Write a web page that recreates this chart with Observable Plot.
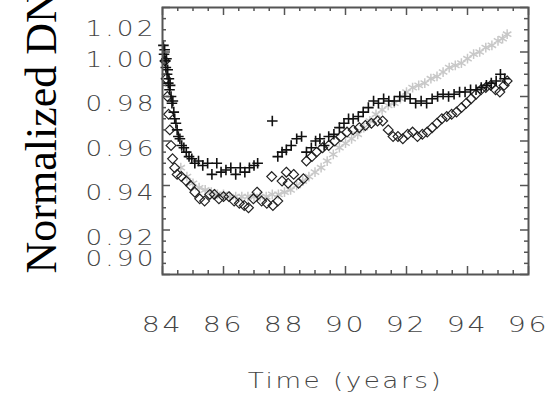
<!DOCTYPE html>
<html>
<head>
<meta charset="utf-8">
<script src="https://cdn.jsdelivr.net/npm/d3@7"></script>
<script src="https://cdn.jsdelivr.net/npm/@observablehq/plot@0.6"></script>
<style>
  html, body { margin: 0; padding: 0; background: #fff; }
  svg { display: block; }
  g[aria-label="dot"] { filter: blur(0.45px); }
</style>
</head>
<body>
<div id="chart"></div>
<script>
// ---- data (time in years since 1900, normalized DN) ----
const crosses = [
  [84.03,1.003],[84.05,0.999],[84.07,1.001],[84.09,0.996],[84.11,0.993],[84.13,0.997],[84.15,0.990],
  [84.17,0.992],[84.19,0.986],[84.21,0.988],[84.23,0.983],[84.25,0.985],[84.28,0.980],[84.31,0.977],
  [84.34,0.978],[84.37,0.973],[84.40,0.970],[84.44,0.968],[84.48,0.965],[84.52,0.962],[84.57,0.961],
  [84.63,0.958],[84.70,0.957],[84.78,0.955],[84.87,0.953],[84.96,0.952],[85.06,0.950],[85.18,0.951],
  [85.32,0.949],[85.48,0.950],[85.62,0.945],[85.78,0.950],[85.92,0.946],[86.08,0.947],[86.24,0.948],
  [86.40,0.945],[86.55,0.948],[86.70,0.946],[86.85,0.948],[87.00,0.949],[87.12,0.950],[87.60,0.969],
  [87.78,0.953],[87.92,0.955],[88.06,0.956],[88.22,0.958],[88.40,0.961],[88.56,0.962],[88.72,0.955],
  [88.88,0.957],[89.02,0.960],[89.16,0.961],[89.30,0.958],[89.45,0.962],[89.62,0.963],[89.80,0.966],
  [89.95,0.968],[90.10,0.970],[90.25,0.970],[90.42,0.971],[90.58,0.973],[90.75,0.975],[90.92,0.978],
  [91.08,0.977],[91.25,0.979],[91.42,0.978],[91.60,0.978],[91.78,0.980],[91.95,0.980],[92.12,0.979],
  [92.30,0.977],[92.48,0.978],[92.66,0.977],[92.84,0.979],[93.02,0.980],[93.20,0.981],[93.38,0.980],
  [93.56,0.981],[93.74,0.982],[93.92,0.982],[94.10,0.983],[94.28,0.983],[94.45,0.984],[94.62,0.985],
  [94.78,0.986],[94.94,0.987],[95.08,0.990],[95.22,0.988]
];
const diamonds = [
  [84.08,0.996],[84.12,0.988],[84.16,0.980],[84.20,0.972],[84.24,0.965],[84.28,0.958],[84.33,0.952],
  [84.40,0.948],[84.48,0.945],[84.62,0.944],[84.78,0.942],[84.92,0.940],[85.06,0.937],[85.22,0.934],
  [85.38,0.933],[85.55,0.936],[85.70,0.936],[85.85,0.934],[86.00,0.935],[86.18,0.935],[86.35,0.933],
  [86.52,0.932],[86.68,0.931],[86.82,0.930],[86.98,0.934],[87.10,0.937],[87.25,0.933],[87.42,0.932],
  [87.58,0.944],[87.62,0.931],[87.78,0.933],[87.92,0.942],[88.06,0.946],[88.12,0.941],[88.30,0.945],
  [88.46,0.941],[88.62,0.943],[88.72,0.951],[88.90,0.953],[89.05,0.955],[89.25,0.957],[89.45,0.958],
  [89.65,0.960],[89.85,0.962],[90.05,0.964],[90.25,0.965],[90.45,0.966],[90.65,0.967],[90.85,0.968],
  [91.05,0.969],[91.22,0.969],[91.40,0.965],[91.56,0.962],[91.72,0.962],[91.88,0.961],[92.04,0.963],
  [92.20,0.964],[92.36,0.962],[92.52,0.963],[92.68,0.964],[92.84,0.966],[93.00,0.968],[93.16,0.970],
  [93.32,0.971],[93.48,0.972],[93.64,0.973],[93.80,0.975],[93.96,0.977],[94.12,0.979],[94.28,0.981],
  [94.44,0.983],[94.60,0.984],[94.76,0.985],[94.92,0.983],[95.06,0.982],[95.20,0.985],[95.30,0.987]
];
const grays = [
  [84.60,0.948],[84.80,0.944],[85.00,0.941],[85.20,0.939],[85.40,0.938],[85.60,0.937],[85.80,0.936],
  [86.00,0.936],[86.20,0.935],[86.40,0.935],[86.60,0.935],[86.80,0.935],[87.00,0.935],[87.20,0.935],
  [87.40,0.935],[87.60,0.936],[87.80,0.936],[88.00,0.937],[88.20,0.938],[88.40,0.940],[88.60,0.942],
  [88.80,0.944],[89.00,0.946],[89.20,0.948],[89.40,0.951],[89.60,0.954],[89.80,0.957],[90.00,0.959],
  [90.20,0.961],[90.40,0.963],[90.60,0.966],[90.80,0.969],[91.00,0.972],[91.20,0.974],[91.40,0.976],
  [91.60,0.977],[91.80,0.979],[92.00,0.982],[92.20,0.984],[92.40,0.985],[92.60,0.986],[92.80,0.988],
  [93.00,0.989],[93.20,0.991],[93.40,0.993],[93.60,0.994],[93.80,0.995],[94.00,0.997],[94.20,0.999],
  [94.40,1.000],[94.60,1.002],[94.80,1.003],[95.00,1.005],[95.15,1.006],[95.30,1.008]
];
const xTickValues = [84, 86, 88, 90, 92, 94, 96];
const yTickValues = [1.02, 1.00, 0.98, 0.96, 0.94, 0.92, 0.90];
const yTitle = "Normalized DN";
const xTitle = "Time (years)";

// ---- layout ----
const W = 558, H = 397;
const M = {top: 7, right: 30, bottom: 123, left: 162};
const PW = W - M.left - M.right, PH = H - M.top - M.bottom;
const xMinor = d3.range(84.5, 96, 0.5).filter(d => d % 2 !== 0);
const yMajor = d3.range(0, 7).map(i => +(0.90 + i * 0.02).toFixed(3));
const yMinor = d3.range(0, 25).filter(i => i % 4 !== 0).map(i => +(0.90 + i * 0.005).toFixed(4));
const axisColor = "#555";
const labelColor = "#444";
const labelFont = "DejaVu Sans";

const yMid = yTickValues.slice(1, 6);
const yTop = yTickValues.slice(0, 1);
const yBot = yTickValues.slice(6);
const yLabelOpts = {anchor: "left", tickSize: 0, tickPadding: 6, fontSize: 21, fontWeight: 300, fill: labelColor,
  fontFamily: labelFont, label: null, tickFormat: d => d.toFixed(2)};

const chart = Plot.plot({
  width: W, height: H,
  marginTop: M.top, marginRight: M.right, marginBottom: M.bottom, marginLeft: M.left,
  style: {background: "#fff", fontFamily: labelFont},
  x: {domain: [84, 96]},
  y: {domain: [0.90, 1.02]},
  marks: [
    Plot.dot(grays, {x: d => d[0], y: d => d[1], symbol: "asterisk", r: 4.6, stroke: "#c8c8c8", strokeWidth: 1.5}),
    Plot.dot(diamonds, {x: d => d[0], y: d => d[1], symbol: "diamond2", r: 4.4, stroke: "#222", strokeWidth: 1.2, fill: "none"}),
    Plot.dot(crosses, {x: d => d[0], y: d => d[1], symbol: "plus", r: 3.5, stroke: "#111", strokeWidth: 1.6}),
    // inward frame ticks
    Plot.tickX(xTickValues, {x: d => d, insetTop: PH - 8, stroke: axisColor, strokeWidth: 1.5}),
    Plot.tickX(xTickValues, {x: d => d, insetBottom: PH - 8, stroke: axisColor, strokeWidth: 1.5}),
    Plot.tickX(xMinor, {x: d => d, insetTop: PH - 4, stroke: axisColor, strokeWidth: 1.5}),
    Plot.tickX(xMinor, {x: d => d, insetBottom: PH - 4, stroke: axisColor, strokeWidth: 1.5}),
    Plot.tickY(yMajor, {y: d => d, insetRight: PW - 8, stroke: axisColor, strokeWidth: 1.5}),
    Plot.tickY(yMajor, {y: d => d, insetLeft: PW - 8, stroke: axisColor, strokeWidth: 1.5}),
    Plot.tickY(yMinor, {y: d => d, insetRight: PW - 4, stroke: axisColor, strokeWidth: 1.5}),
    Plot.tickY(yMinor, {y: d => d, insetLeft: PW - 4, stroke: axisColor, strokeWidth: 1.5}),
    Plot.frame({stroke: axisColor, strokeWidth: 2}),
    // tick labels
    Plot.axisX(xTickValues, {anchor: "bottom", tickSize: 0, tickPadding: 0, dy: 43, fontSize: 21, fontWeight: 300,
      fill: labelColor, fontFamily: labelFont, label: null, tickFormat: d => String(d)}),
    Plot.axisY(yMid, {...yLabelOpts, dy: 8}),
    Plot.axisY(yTop, {...yLabelOpts, dy: 22}),
    Plot.axisY(yBot, {...yLabelOpts, dy: -15}),
    // titles
    Plot.text([xTitle], {frameAnchor: "bottom", lineAnchor: "top", dy: 99, fontSize: 21, fontWeight: 300,
      fill: labelColor, fontFamily: labelFont}),
    Plot.text([yTitle], {frameAnchor: "bottom-left", rotate: -90, textAnchor: "start", lineAnchor: "bottom",
      dx: -107, dy: -1, fontSize: 44, fill: "#000", fontFamily: "Liberation Serif"})
  ]
});
document.getElementById("chart").appendChild(chart);

// widen the Hershey-like lettering of the tick labels and x title (horizontal stretch only)
function stretch(texts, sx, ls) {
  texts.forEach(t => {
    const tr = t.getAttribute("transform") || "";
    t.setAttribute("transform", tr + ` scale(${sx},1)`);
    t.setAttribute("letter-spacing", ls);
  });
}
const allTexts = Array.from(chart.querySelectorAll("text"));
const yLabelSet = new Set(yTickValues.map(d => d.toFixed(2)));
const xLabelSet = new Set(xTickValues.map(String));
stretch(allTexts.filter(t => yLabelSet.has(t.textContent)), 1.25, 2.5);
stretch(allTexts.filter(t => xLabelSet.has(t.textContent)), 1.35, 2);
stretch(allTexts.filter(t => t.textContent === xTitle), 1.25, 2);
</script>
</body>
</html>
